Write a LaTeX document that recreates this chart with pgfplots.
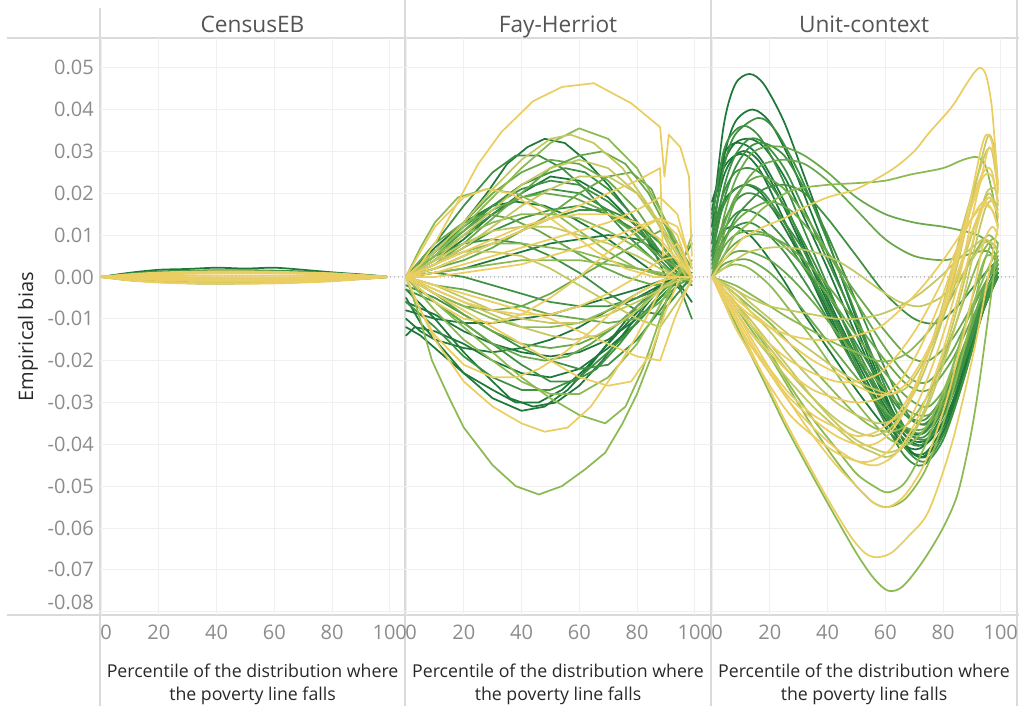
\documentclass[border=0pt]{standalone}
\usepackage{pgfplots}
\pgfplotsset{compat=1.18}
\usepackage{fontspec}
\setmainfont{Open Sans}
\definecolor{g1}{RGB}{30,120,58}
\definecolor{g2}{RGB}{62,145,66}
\definecolor{g3}{RGB}{105,168,75}
\definecolor{g4}{RGB}{140,186,82}
\definecolor{g5}{RGB}{196,200,96}
\definecolor{g6}{RGB}{234,206,98}
\definecolor{tickgray}{RGB}{140,140,140}
\definecolor{titlegray}{RGB}{85,85,85}
\definecolor{labgray}{RGB}{40,40,40}
\definecolor{rulec}{RGB}{218,218,218}
\definecolor{gridc}{RGB}{240,240,240}
\pgfplotsset{panel/.style={
  scale only axis, width=229pt, height=432.75pt,
  xmin=-0.35, xmax=105.4, ymin=-0.0808, ymax=0.0571,
  axis line style={draw=none}, major tick length=0pt,
  scaled x ticks=false, scaled y ticks=false,
  xtick={20,40,60,80,100}, xticklabels={20,40,60,80,100},
  extra x ticks={0}, extra x tick labels={0},
  extra x tick style={xticklabel style={xshift=3.75pt}},
  ytick={-0.08,-0.07,-0.06,-0.05,-0.04,-0.03,-0.02,-0.01,0,0.01,0.02,0.03,0.04,0.05},
  grid=major, major grid style={gridc, line width=0.7pt},
  tick label style={font=\fontsize{15}{18}\selectfont, text=tickgray, inner sep=0pt},
  xticklabel style={anchor=north},
  xticklabel shift=7.3pt, yticklabel shift=4.5pt,
  every axis plot/.append style={line width=1.3pt, line join=round, line cap=round},
}}
\begin{document}
\begin{tikzpicture}
\useasboundingbox (0,0) rectangle (764.25pt,529.5pt);
% frame rules
\draw[rulec, line width=0.8pt] (5.25pt,501pt) -- (764.25pt,501pt);
\draw[rulec, line width=0.8pt] (5.25pt,68.25pt) -- (764.25pt,68.25pt);
\draw[rulec, line width=0.8pt] (75pt,523.5pt) -- (75pt,0pt);
\draw[rulec, line width=0.8pt] (303.75pt,529.5pt) -- (303.75pt,0pt);
\draw[rulec, line width=0.8pt] (533.25pt,529.5pt) -- (533.25pt,0pt);
\draw[rulec, line width=0.8pt] (762.75pt,529.5pt) -- (762.75pt,0pt);

% ---------------- CensusEB ----------------
\begin{axis}[panel, at={(75pt,68.25pt)}, anchor=south west,
  ytick={-0.07,-0.06,-0.05,-0.04,-0.03,-0.02,-0.01,0,0.01,0.02,0.03,0.04,0.05},
  yticklabels={-0.07,-0.06,-0.05,-0.04,-0.03,-0.02,-0.01,0.00,0.01,0.02,0.03,0.04,0.05},
  extra y ticks={-0.08}, extra y tick labels={-0.08},
  extra y tick style={yticklabel style={yshift=7pt}},
  every axis plot/.append style={smooth}]
\draw[gray!45, dotted, line width=0.9pt] (axis cs:-0.35,0) -- (axis cs:105.4,0);
\addplot[g1] coordinates {(0,0)(10,0.0010)(20,0.0017)(30,0.0019)(40,0.0022)(50,0.0020)(60,0.0022)(70,0.0017)(80,0.0011)(90,0.0006)(99,0.0001)};
\addplot[g1] coordinates {(0,0)(10,-0.0008)(20,-0.0012)(30,-0.0015)(40,-0.0016)(50,-0.0015)(60,-0.0014)(70,-0.0012)(80,-0.0009)(90,-0.0005)(99,-0.0001)};
\addplot[g2] coordinates {(0,0)(10,0.0008)(20,0.0013)(30,0.0015)(40,0.0016)(50,0.0016)(60,0.0015)(70,0.0013)(80,0.0009)(90,0.0005)(99,0)};
\addplot[g2] coordinates {(0,0)(10,-0.0005)(20,-0.0009)(30,-0.0011)(40,-0.0012)(50,-0.0013)(60,-0.0012)(70,-0.0010)(80,-0.0007)(90,-0.0004)(99,0)};
\addplot[g3] coordinates {(0,0)(10,0.0004)(20,0.0008)(30,0.0010)(40,0.0011)(50,0.0012)(60,0.0011)(70,0.0009)(80,0.0007)(90,0.0004)(99,0)};
\addplot[g5] coordinates {(0,0)(10,0.0005)(20,0.0009)(30,0.0011)(40,0.0011)(50,0.0012)(60,0.0011)(70,0.0010)(80,0.0008)(90,0.0004)(99,0)};
\addplot[g5] coordinates {(0,0)(10,-0.0006)(20,-0.0011)(30,-0.0013)(40,-0.0014)(50,-0.0013)(60,-0.0013)(70,-0.0011)(80,-0.0008)(90,-0.0004)(99,0)};
\addplot[g6, line width=1.6pt] coordinates {(0,0)(10,0.0003)(20,0.0006)(30,0.0008)(40,0.0009)(50,0.0009)(60,0.0009)(70,0.0008)(80,0.0006)(90,0.0003)(99,0)};
\addplot[g6, line width=1.6pt] coordinates {(0,0)(10,-0.0002)(20,-0.0004)(30,-0.0005)(40,-0.0006)(50,-0.0006)(60,-0.0006)(70,-0.0005)(80,-0.0004)(90,-0.0002)(99,0)};
\addplot[g6, line width=1.6pt] coordinates {(0,0)(10,0.0001)(20,0.0002)(30,0.0003)(40,0.0003)(50,0.0003)(60,0.0003)(70,0.0003)(80,0.0002)(90,0.0001)(99,0)};
\addplot[g6, line width=1.6pt] coordinates {(0,0)(10,-0.0004)(20,-0.0007)(30,-0.0009)(40,-0.0010)(50,-0.0010)(60,-0.0010)(70,-0.0009)(80,-0.0007)(90,-0.0004)(99,0)};
\addplot[g6, line width=1.6pt] coordinates {(0,0)(10,0.0006)(20,0.0010)(30,0.0012)(40,0.0013)(50,0.0013)(60,0.0012)(70,0.0010)(80,0.0008)(90,0.0004)(99,0)};
\addplot[g6, line width=1.6pt] coordinates {(0,0)(10,-0.0008)(20,-0.0013)(30,-0.0015)(40,-0.0016)(50,-0.0016)(60,-0.0015)(70,-0.0013)(80,-0.0010)(90,-0.0005)(99,0)};
\addplot[g6, line width=1.6pt] coordinates {(0,0)(10,0.0004)(20,0.0007)(30,0.0009)(40,0.0010)(50,0.0010)(60,0.0010)(70,0.0009)(80,0.0007)(90,0.0003)(99,0)};
\addplot[g6, line width=1.6pt] coordinates {(0,0)(10,-0.0001)(20,-0.0002)(30,-0.0002)(40,-0.0003)(50,-0.0003)(60,-0.0003)(70,-0.0002)(80,-0.0002)(90,-0.0001)(99,0)};
\end{axis}

% ---------------- Fay-Herriot ----------------
\begin{axis}[panel, at={(303.75pt,68.25pt)}, anchor=south west,
  yticklabels={,,,,,,,,,,,,,}]
\draw[gray!45, dotted, line width=0.9pt] (axis cs:-0.35,0) -- (axis cs:105.4,0);
% g1
\addplot[g1] coordinates {(0,0)(10,0.006)(20,0.013)(28,0.020)(35,0.027)(42,0.031)(48,0.033)(55,0.032)(62,0.028)(70,0.022)(79,0.014)(86,0.006)(90,0.0)(95,-0.003)(99,0.0)};
\addplot[g1] coordinates {(0,0)(10,0.007)(20,0.013)(30,0.017)(38,0.018)(48,0.017)(58,0.014)(68,0.010)(78,0.005)(86,0.001)(94,-0.001)(99,0.0)};
\addplot[g1] coordinates {(0,0)(10,0.001)(20,0.002)(30,0.004)(40,0.006)(50,0.008)(60,0.009)(70,0.010)(80,0.009)(88,0.006)(94,0.003)(99,0.0)};
\addplot[g1] coordinates {(0,-0.005)(5,-0.011)(10,-0.015)(20,-0.023)(30,-0.029)(40,-0.032)(48,-0.031)(56,-0.027)(64,-0.021)(72,-0.014)(80,-0.007)(88,-0.002)(94,0.0)(99,0.0)};
\addplot[g1] coordinates {(0,-0.012)(5,-0.014)(10,-0.017)(20,-0.023)(30,-0.027)(38,-0.030)(46,-0.030)(54,-0.027)(62,-0.022)(70,-0.016)(78,-0.010)(86,-0.004)(94,0.0)(99,0.001)};
\addplot[g1] coordinates {(0,-0.010)(5,-0.013)(10,-0.015)(20,-0.017)(30,-0.018)(40,-0.017)(50,-0.015)(60,-0.012)(70,-0.008)(80,-0.005)(88,-0.002)(94,0.0)(99,0.0)};
\addplot[g1] coordinates {(0,-0.008)(5,-0.009)(10,-0.010)(20,-0.011)(30,-0.011)(40,-0.010)(50,-0.009)(60,-0.007)(70,-0.005)(80,-0.003)(88,-0.001)(94,0.0)(99,0.0)};
\addplot[g1] coordinates {(0,0)(10,0.004)(20,0.009)(30,0.015)(40,0.020)(50,0.024)(60,0.023)(70,0.019)(80,0.012)(88,0.005)(94,0.001)(99,0.0)};
\addplot[g1] coordinates {(0,-0.003)(10,-0.010)(20,-0.018)(30,-0.025)(36,-0.029)(44,-0.031)(52,-0.030)(60,-0.026)(68,-0.020)(76,-0.013)(84,-0.006)(90,-0.001)(96,0.0)(99,0.0)};
\addplot[g1] coordinates {(0,-0.006)(10,-0.009)(20,-0.013)(30,-0.016)(40,-0.018)(50,-0.019)(60,-0.018)(70,-0.015)(80,-0.010)(88,-0.005)(94,-0.001)(99,-0.006)};
\addplot[g1] coordinates {(0,-0.014)(3,-0.012)(10,-0.013)(20,-0.016)(30,-0.020)(40,-0.023)(50,-0.024)(60,-0.022)(70,-0.017)(80,-0.011)(88,-0.005)(94,-0.001)(99,0.0)};
% g2
\addplot[g2] coordinates {(0,0)(10,0.005)(20,0.011)(30,0.017)(40,0.022)(50,0.025)(55,0.026)(62,0.025)(70,0.021)(78,0.015)(86,0.008)(92,0.002)(97,0.0)};
\addplot[g2] coordinates {(0,0)(10,0.006)(20,0.012)(30,0.017)(40,0.021)(50,0.023)(60,0.022)(70,0.018)(80,0.012)(88,0.006)(94,0.001)(99,0.0)};
\addplot[g2] coordinates {(0,0)(10,0.002)(20,0.005)(30,0.008)(40,0.011)(50,0.014)(60,0.016)(70,0.016)(80,0.013)(88,0.008)(94,0.003)(99,0.0)};
\addplot[g2] coordinates {(0,-0.003)(10,-0.006)(20,-0.011)(30,-0.016)(40,-0.021)(50,-0.025)(58,-0.025)(66,-0.022)(74,-0.016)(82,-0.009)(88,-0.004)(94,0.0)(99,0.0)};
\addplot[g2] coordinates {(0,0)(10,0.005)(20,0.008)(30,0.009)(40,0.008)(50,0.005)(60,0.001)(70,-0.004)(80,-0.008)(88,-0.009)(94,-0.004)(99,0.0)};
\addplot[g2] coordinates {(0,-0.002)(10,-0.005)(20,-0.009)(30,-0.013)(40,-0.017)(50,-0.020)(60,-0.022)(70,-0.021)(80,-0.015)(88,-0.008)(94,-0.002)(99,0.0)};
\addplot[g2] coordinates {(0,0)(10,0.008)(20,0.017)(30,0.025)(38,0.029)(46,0.029)(54,0.026)(62,0.021)(70,0.015)(78,0.009)(86,0.004)(92,0.001)(97,0.0)};
\addplot[g2] coordinates {(0,0)(10,0.004)(20,0.010)(30,0.015)(40,0.019)(50,0.021)(60,0.020)(70,0.016)(80,0.010)(88,0.004)(94,0.0)(99,-0.002)};
\addplot[g2] coordinates {(0,-0.006)(10,-0.012)(20,-0.019)(30,-0.024)(40,-0.027)(50,-0.027)(60,-0.024)(70,-0.018)(80,-0.011)(88,-0.005)(94,-0.001)(99,0.0)};
\addplot[g2] coordinates {(0,0)(10,0.003)(20,0.007)(30,0.011)(40,0.014)(50,0.016)(60,0.017)(70,0.015)(80,0.011)(88,0.006)(94,0.002)(99,0.008)};
\addplot[g2] coordinates {(0,0)(10,0.001)(20,0.0)(30,-0.002)(40,-0.004)(50,-0.006)(60,-0.007)(70,-0.007)(80,-0.005)(88,-0.003)(94,-0.001)(99,-0.010)};
% g3
\addplot[g3] coordinates {(0,0)(10,0.003)(20,0.008)(30,0.014)(40,0.020)(50,0.026)(60,0.029)(68,0.030)(76,0.027)(84,0.020)(90,0.012)(95,0.005)(99,0.0)};
\addplot[g3] coordinates {(0,0)(10,0.006)(20,0.011)(30,0.016)(40,0.019)(48,0.020)(58,0.019)(68,0.016)(78,0.011)(86,0.006)(94,0.002)(99,0.0)};
\addplot[g3] coordinates {(0,0)(10,-0.006)(20,-0.011)(30,-0.016)(40,-0.019)(48,-0.020)(56,-0.019)(64,-0.016)(72,-0.012)(80,-0.007)(88,-0.003)(94,0.0)(99,0.0)};
\addplot[g3] coordinates {(0,0)(10,-0.004)(20,-0.007)(30,-0.008)(40,-0.007)(50,-0.004)(60,0.0)(70,0.004)(80,0.008)(88,0.011)(94,0.008)(99,0.002)};
\addplot[g3] coordinates {(0,0)(10,-0.002)(20,-0.003)(30,-0.005)(40,-0.007)(50,-0.009)(60,-0.010)(70,-0.011)(80,-0.010)(88,-0.006)(94,-0.002)(99,0.0)};
\addplot[g3] coordinates {(0,0)(10,0.002)(20,0.004)(30,0.007)(40,0.011)(50,0.015)(60,0.020)(70,0.024)(78,0.025)(85,0.021)(90,0.013)(95,0.005)(99,0.0)};
\addplot[g3] coordinates {(0,0)(10,0.008)(20,0.013)(28,0.015)(36,0.014)(46,0.011)(56,0.007)(66,0.003)(76,0.0)(86,-0.002)(94,-0.001)(99,0.0)};
\addplot[g3] coordinates {(0,0)(10,-0.004)(20,-0.009)(30,-0.013)(40,-0.016)(50,-0.017)(60,-0.016)(70,-0.013)(80,-0.008)(88,-0.003)(94,0.0)(99,0.004)};
\addplot[g3] coordinates {(0,0)(10,0.006)(20,0.013)(30,0.020)(40,0.025)(50,0.028)(60,0.027)(70,0.023)(80,0.016)(88,0.008)(94,0.002)(99,0.0)};
% g4
\addplot[g4] coordinates {(0,0)(10,0.005)(20,0.012)(30,0.019)(40,0.026)(50,0.032)(60,0.0355)(70,0.033)(80,0.026)(88,0.016)(94,0.008)(99,0.0)};
\addplot[g4] coordinates {(0,0)(5,0.007)(10,0.013)(18,0.019)(28,0.021)(38,0.020)(50,0.016)(60,0.011)(70,0.006)(80,0.002)(90,0.0)(97,0.0)};
\addplot[g4] coordinates {(0,0)(10,0.003)(20,0.006)(30,0.008)(40,0.008)(50,0.007)(60,0.006)(70,0.004)(80,0.002)(88,0.001)(94,0.0)(99,-0.001)};
\addplot[g4] coordinates {(0,0)(4,-0.008)(9,-0.020)(15,-0.029)(20,-0.036)(30,-0.045)(38,-0.050)(46,-0.052)(54,-0.050)(62,-0.046)(69,-0.042)(75,-0.035)(80,-0.028)(85,-0.019)(88,-0.012)(91,-0.003)(95,0.002)(99,0.0)};
\addplot[g4] coordinates {(0,0)(10,-0.006)(20,-0.012)(30,-0.018)(40,-0.024)(50,-0.029)(60,-0.033)(69,-0.035)(76,-0.031)(82,-0.022)(88,-0.010)(92,-0.002)(96,0.002)(99,0.0)};
\addplot[g4] coordinates {(0,0)(10,-0.008)(20,-0.015)(30,-0.020)(40,-0.025)(50,-0.028)(60,-0.028)(70,-0.024)(80,-0.016)(87,-0.008)(93,0.0)(99,0.0)};
\addplot[g4] coordinates {(0,0)(10,0.001)(20,0.002)(30,0.003)(40,0.004)(50,0.004)(60,0.004)(70,0.003)(80,0.002)(88,0.001)(94,0.0)(99,0.0)};
\addplot[g4] coordinates {(0,0)(10,0.005)(20,0.010)(30,0.013)(40,0.015)(50,0.015)(60,0.014)(70,0.011)(80,0.007)(88,0.003)(94,0.0)(99,0.010)};
\addplot[g4] coordinates {(0,0)(10,-0.004)(20,-0.007)(30,-0.010)(40,-0.012)(50,-0.012)(60,-0.011)(70,-0.008)(80,-0.004)(88,-0.001)(94,0.0)(99,0.0)};
% g5
\addplot[g5] coordinates {(0,0)(10,0.006)(20,0.013)(30,0.021)(40,0.028)(50,0.033)(57,0.034)(65,0.032)(75,0.026)(85,0.016)(92,0.006)(97,0.0)};
\addplot[g5] coordinates {(0,0)(10,0.004)(20,0.010)(30,0.016)(40,0.022)(50,0.026)(60,0.028)(70,0.026)(80,0.020)(88,0.012)(94,0.005)(99,0.0)};
\addplot[g5] coordinates {(0,0)(10,0.004)(20,0.008)(30,0.011)(40,0.012)(50,0.012)(60,0.010)(70,0.008)(80,0.005)(88,0.002)(94,0.0)(99,0.0)};
\addplot[g5] coordinates {(0,0)(10,-0.003)(20,-0.006)(30,-0.009)(40,-0.012)(50,-0.014)(58,-0.015)(66,-0.014)(74,-0.011)(82,-0.007)(88,-0.003)(94,0.0)(99,0.0)};
\addplot[g5] coordinates {(0,0)(10,0.004)(20,0.006)(30,0.006)(40,0.005)(50,0.002)(60,-0.002)(70,-0.006)(80,-0.010)(88,-0.012)(94,-0.006)(99,-0.001)};
\addplot[g5] coordinates {(0,0)(10,-0.002)(20,-0.005)(30,-0.008)(40,-0.010)(50,-0.011)(60,-0.011)(70,-0.009)(80,-0.006)(88,-0.003)(94,-0.001)(99,0.0)};
\addplot[g5] coordinates {(0,0)(10,0.003)(20,0.007)(30,0.012)(40,0.017)(50,0.021)(60,0.024)(70,0.024)(80,0.020)(88,0.013)(94,0.006)(99,0.0)};
% g6
\addplot[g6] coordinates {(0,0)(5,0.003)(10,0.008)(18,0.018)(25,0.027)(33,0.0346)(44,0.042)(54,0.0454)(65,0.0463)(78,0.0415)(88,0.0358)(89.5,0.024)(91,0.034)(95,0.031)(98,0.024)(99,0.005)};
\addplot[g6] coordinates {(0,0)(10,0.002)(20,0.005)(30,0.008)(40,0.011)(50,0.014)(60,0.017)(70,0.020)(80,0.023)(88,0.026)(89,0.005)(94,0.008)(99,0.0)};
\addplot[g6] coordinates {(0,0)(10,0.001)(20,0.003)(30,0.005)(40,0.007)(50,0.009)(60,0.011)(70,0.013)(80,0.016)(88,0.019)(94,0.015)(99,0.002)};
\addplot[g6] coordinates {(0,0)(10,0.0)(20,0.001)(30,0.002)(40,0.003)(50,0.005)(60,0.007)(70,0.009)(80,0.012)(88,0.014)(94,0.012)(99,0.003)};
\addplot[g6] coordinates {(0,0)(5,-0.008)(10,-0.015)(20,-0.025)(30,-0.031)(40,-0.035)(48,-0.037)(56,-0.036)(64,-0.031)(72,-0.023)(80,-0.014)(86,-0.006)(90,0.0)(95,0.003)(99,0.0)};
\addplot[g6] coordinates {(0,0)(5,-0.008)(10,-0.014)(20,-0.021)(30,-0.024)(38,-0.024)(46,-0.022)(55,-0.018)(64,-0.013)(72,-0.008)(80,-0.004)(88,-0.001)(94,0.0)(99,0.0)};
\addplot[g6] coordinates {(0,0)(10,-0.002)(20,-0.004)(30,-0.006)(40,-0.008)(50,-0.010)(60,-0.013)(70,-0.016)(80,-0.019)(88,-0.020)(93,-0.010)(99,0.0)};
\addplot[g6] coordinates {(0,0)(10,-0.006)(20,-0.010)(30,-0.011)(40,-0.009)(50,-0.005)(60,0.0)(70,0.006)(80,0.011)(88,0.014)(94,0.010)(99,0.0)};
\addplot[g6] coordinates {(0,0)(10,-0.004)(20,-0.008)(30,-0.012)(40,-0.016)(50,-0.020)(60,-0.024)(70,-0.026)(78,-0.025)(85,-0.018)(90,-0.008)(95,0.0)(99,0.0)};
\addplot[g6] coordinates {(0,0)(5,0.006)(10,0.012)(20,0.019)(28,0.021)(36,0.020)(46,0.016)(56,0.011)(66,0.006)(76,0.002)(86,0.0)(94,0.0)(99,0.0)};
\addplot[g6] coordinates {(0,0)(10,0.003)(20,0.006)(30,0.009)(40,0.012)(50,0.014)(60,0.015)(70,0.015)(80,0.013)(88,0.009)(94,0.004)(99,0.0)};
\addplot[g6] coordinates {(0,0)(10,-0.003)(20,-0.006)(30,-0.008)(40,-0.009)(50,-0.009)(60,-0.007)(70,-0.004)(80,0.0)(88,0.004)(94,0.005)(99,0.0)};
\end{axis}

% ---------------- Unit-context ----------------
\begin{axis}[panel, at={(533.25pt,68.25pt)}, anchor=south west,
  yticklabels={,,,,,,,,,,,,,},
  every axis plot/.append style={smooth}]
\draw[gray!45, dotted, line width=0.9pt] (axis cs:-0.35,0) -- (axis cs:105.4,0);
% g1
\addplot[g1] coordinates {(0,0.012)(4,0.036)(8,0.046)(13,0.0485)(18,0.046)(25,0.037)(32,0.024)(40,0.009)(50,-0.010)(60,-0.028)(67,-0.038)(74,-0.040)(82,-0.032)(88,-0.020)(93,-0.009)(97,-0.002)(99,0.0)};
\addplot[g1] coordinates {(0,0.008)(4,0.028)(8,0.037)(14,0.040)(20,0.037)(27,0.028)(34,0.016)(42,0.002)(50,-0.012)(60,-0.029)(67,-0.040)(74,-0.043)(82,-0.034)(88,-0.021)(93,-0.009)(97,-0.002)(99,0.001)};
\addplot[g1] coordinates {(0,0.015)(4,0.027)(8,0.032)(13,0.033)(18,0.031)(25,0.024)(32,0.014)(40,0.002)(50,-0.014)(60,-0.029)(68,-0.037)(75,-0.036)(83,-0.025)(90,-0.012)(95,-0.003)(99,0.003)};
\addplot[g1] coordinates {(0,0.012)(4,0.024)(8,0.029)(12,0.030)(17,0.027)(24,0.018)(32,0.006)(40,-0.006)(50,-0.020)(60,-0.033)(67,-0.041)(74,-0.042)(82,-0.033)(89,-0.018)(94,-0.007)(99,0.0)};
\addplot[g1] coordinates {(0,0.010)(4,0.018)(8,0.021)(12,0.022)(17,0.020)(24,0.013)(32,0.003)(40,-0.008)(50,-0.022)(60,-0.034)(66,-0.040)(73,-0.043)(81,-0.036)(88,-0.022)(94,-0.008)(99,0.0)};
\addplot[g1] coordinates {(0,0.006)(4,0.011)(8,0.012)(13,0.010)(18,0.006)(25,-0.001)(32,-0.009)(40,-0.017)(50,-0.027)(60,-0.036)(66,-0.040)(72,-0.041)(80,-0.035)(88,-0.021)(94,-0.008)(99,0.0)};
\addplot[g1] coordinates {(0,0.018)(4,0.026)(8,0.029)(12,0.029)(17,0.025)(24,0.015)(32,0.003)(40,-0.009)(50,-0.022)(60,-0.032)(67,-0.037)(74,-0.037)(82,-0.028)(89,-0.015)(94,-0.005)(99,0.001)};
\addplot[g1] coordinates {(0,0.016)(4,0.029)(8,0.032)(13,0.031)(18,0.027)(25,0.018)(32,0.007)(40,-0.005)(50,-0.019)(60,-0.031)(67,-0.038)(74,-0.039)(82,-0.030)(89,-0.016)(94,-0.006)(99,0.001)};
% g2
\addplot[g2] coordinates {(0,0.010)(4,0.026)(8,0.034)(16,0.038)(22,0.035)(30,0.025)(38,0.012)(46,-0.002)(55,-0.018)(63,-0.031)(69,-0.038)(76,-0.038)(84,-0.027)(90,-0.014)(95,-0.004)(99,0.002)};
\addplot[g2] coordinates {(0,0.005)(4,0.018)(8,0.026)(13,0.031)(18,0.032)(25,0.029)(32,0.021)(40,0.010)(50,-0.006)(60,-0.022)(68,-0.033)(75,-0.035)(83,-0.026)(90,-0.013)(95,-0.004)(99,0.002)};
\addplot[g2] coordinates {(0,0.010)(4,0.020)(8,0.025)(13,0.026)(18,0.024)(25,0.017)(32,0.008)(40,-0.003)(50,-0.017)(60,-0.030)(67,-0.037)(74,-0.038)(82,-0.029)(89,-0.016)(94,-0.006)(99,0.001)};
\addplot[g2] coordinates {(0,0.005)(4,0.013)(8,0.018)(12,0.020)(17,0.019)(24,0.014)(32,0.006)(40,-0.004)(50,-0.016)(60,-0.027)(67,-0.033)(74,-0.034)(82,-0.026)(89,-0.014)(94,-0.005)(99,0.002)};
\addplot[g2] coordinates {(0,0.004)(4,0.011)(8,0.015)(12,0.016)(18,0.014)(25,0.009)(32,0.002)(40,-0.007)(50,-0.019)(60,-0.030)(67,-0.036)(74,-0.037)(82,-0.028)(89,-0.015)(94,-0.005)(99,0.001)};
\addplot[g2] coordinates {(0,0.014)(4,0.030)(8,0.035)(12,0.036)(17,0.033)(24,0.024)(32,0.011)(40,-0.002)(50,-0.018)(60,-0.032)(67,-0.041)(74,-0.044)(82,-0.035)(89,-0.020)(94,-0.008)(99,0.0)};
\addplot[g2] coordinates {(0,0.0)(4,0.008)(8,0.014)(13,0.018)(18,0.021)(25,0.022)(32,0.020)(40,0.014)(50,0.005)(60,-0.004)(70,-0.010)(78,-0.011)(85,-0.007)(91,-0.002)(96,0.002)(99,0.004)};
\addplot[g2] coordinates {(0,0.008)(4,0.017)(8,0.021)(13,0.022)(18,0.020)(25,0.013)(32,0.004)(40,-0.007)(50,-0.021)(60,-0.035)(67,-0.043)(73,-0.045)(80,-0.039)(87,-0.025)(93,-0.010)(97,-0.002)(99,0.001)};
\addplot[g2] coordinates {(0,0.006)(4,0.021)(8,0.029)(13,0.033)(18,0.032)(25,0.026)(32,0.016)(40,0.004)(50,-0.011)(60,-0.025)(67,-0.033)(74,-0.035)(82,-0.027)(89,-0.014)(94,-0.005)(99,0.002)};
\addplot[g2] coordinates {(0,0.003)(4,0.009)(8,0.012)(13,0.013)(18,0.011)(25,0.006)(32,-0.001)(40,-0.010)(50,-0.022)(60,-0.033)(67,-0.039)(73,-0.040)(81,-0.032)(88,-0.019)(94,-0.007)(99,0.001)};
% g3
\addplot[g3] coordinates {(0,0)(4,0.014)(8,0.023)(13,0.029)(18,0.031)(25,0.031)(32,0.029)(40,0.025)(50,0.019)(60,0.015)(70,0.013)(80,0.012)(87,0.011)(92,0.010)(96,0.008)(99,0.004)};
\addplot[g3] coordinates {(0,0)(4,0.010)(8,0.018)(13,0.024)(18,0.027)(25,0.028)(32,0.027)(40,0.023)(50,0.016)(60,0.009)(70,0.005)(80,0.004)(87,0.005)(92,0.006)(96,0.006)(99,0.003)};
\addplot[g3] coordinates {(0,0)(4,0.005)(8,0.008)(13,0.010)(18,0.010)(25,0.008)(32,0.004)(40,-0.002)(50,-0.011)(60,-0.020)(68,-0.026)(75,-0.027)(83,-0.020)(90,-0.010)(95,-0.003)(99,0.002)};
\addplot[g3] coordinates {(0,0)(4,0.008)(8,0.013)(13,0.016)(20,0.018)(27,0.016)(34,0.011)(42,0.004)(50,-0.004)(60,-0.013)(68,-0.019)(75,-0.020)(83,-0.015)(90,-0.007)(95,-0.001)(99,0.003)};
\addplot[g3] coordinates {(0,0)(4,0.004)(8,0.006)(13,0.006)(20,0.004)(27,0.0)(35,-0.006)(43,-0.013)(50,-0.019)(60,-0.027)(68,-0.032)(75,-0.033)(82,-0.027)(88,-0.016)(93,-0.005)(97,0.002)(99,0.004)};
\addplot[g3] coordinates {(0,0)(4,0.007)(8,0.010)(13,0.011)(20,0.010)(27,0.006)(35,0.0)(43,-0.007)(50,-0.014)(60,-0.023)(68,-0.029)(75,-0.031)(82,-0.025)(88,-0.015)(93,-0.005)(97,0.002)(99,0.005)};
\addplot[g3] coordinates {(0,0)(4,0.003)(8,0.004)(13,0.004)(20,0.001)(27,-0.004)(35,-0.011)(43,-0.018)(50,-0.024)(60,-0.032)(67,-0.036)(74,-0.036)(82,-0.028)(88,-0.016)(93,-0.005)(97,0.002)(99,0.004)};
\addplot[g3] coordinates {(0,0.002)(4,0.012)(8,0.019)(13,0.023)(18,0.024)(25,0.021)(32,0.015)(40,0.006)(50,-0.006)(60,-0.017)(68,-0.024)(75,-0.025)(83,-0.018)(90,-0.008)(95,-0.001)(99,0.004)};
% g4
\addplot[g4] coordinates {(0,0)(4,-0.005)(8,-0.011)(13,-0.018)(18,-0.025)(25,-0.035)(32,-0.044)(40,-0.054)(50,-0.066)(56,-0.072)(61,-0.075)(66,-0.074)(73,-0.068)(80,-0.060)(85,-0.052)(89,-0.040)(92,-0.028)(95,-0.013)(97.5,0.0)(99,0.008)};
\addplot[g4] coordinates {(0,0)(4,-0.003)(8,-0.007)(13,-0.012)(20,-0.019)(27,-0.027)(35,-0.036)(43,-0.044)(50,-0.050)(56,-0.054)(61,-0.055)(67,-0.053)(74,-0.046)(81,-0.033)(87,-0.018)(91,-0.006)(94,0.003)(97,0.008)(99,0.006)};
\addplot[g4] coordinates {(0,0)(8,-0.006)(13,-0.011)(20,-0.018)(27,-0.026)(35,-0.034)(43,-0.041)(50,-0.047)(56,-0.050)(61,-0.0515)(67,-0.049)(74,-0.040)(81,-0.027)(87,-0.013)(91,-0.003)(95,0.005)(99,0.004)};
\addplot[g4] coordinates {(0,0)(8,-0.002)(13,-0.004)(20,-0.007)(27,-0.010)(35,-0.013)(43,-0.016)(50,-0.018)(57,-0.020)(62,-0.020)(68,-0.018)(75,-0.013)(82,-0.006)(88,0.002)(93,0.008)(96,0.010)(99,0.008)};
\addplot[g4] coordinates {(0,0)(4,0.005)(8,0.010)(13,0.013)(17,0.016)(23,0.019)(29,0.021)(40,0.022)(52,0.0225)(60,0.023)(69,0.0245)(80,0.026)(87,0.028)(92,0.0286)(95,0.026)(98,0.017)(99,0.012)};
\addplot[g4] coordinates {(0,0)(4,0.002)(8,0.003)(13,0.002)(20,-0.002)(27,-0.008)(35,-0.015)(43,-0.023)(50,-0.030)(56,-0.035)(62,-0.039)(68,-0.040)(75,-0.035)(82,-0.024)(88,-0.011)(93,-0.002)(97,0.004)(99,0.006)};
\addplot[g4] coordinates {(0,0)(4,-0.002)(8,-0.004)(13,-0.007)(20,-0.011)(27,-0.016)(35,-0.022)(43,-0.028)(50,-0.033)(56,-0.036)(62,-0.037)(68,-0.035)(75,-0.028)(82,-0.016)(88,-0.004)(93,0.005)(97,0.009)(99,0.008)};
% g5
\addplot[g5] coordinates {(0,0)(4,-0.003)(8,-0.006)(13,-0.010)(20,-0.016)(27,-0.022)(35,-0.029)(43,-0.035)(50,-0.039)(56,-0.041)(61,-0.042)(67,-0.040)(74,-0.032)(81,-0.019)(87,-0.005)(91,0.007)(95,0.017)(98,0.018)(99,0.014)};
\addplot[g5] coordinates {(0,0)(8,-0.004)(13,-0.008)(20,-0.013)(27,-0.019)(35,-0.025)(43,-0.030)(50,-0.033)(58,-0.035)(65,-0.033)(72,-0.025)(79,-0.012)(85,0.003)(90,0.018)(94,0.030)(96,0.034)(98,0.030)(99,0.022)};
\addplot[g5] coordinates {(0,0)(8,-0.003)(13,-0.006)(20,-0.010)(27,-0.014)(35,-0.018)(43,-0.022)(50,-0.025)(57,-0.027)(62,-0.028)(68,-0.026)(75,-0.018)(82,-0.006)(88,0.006)(93,0.016)(96,0.020)(99,0.016)};
\addplot[g5] coordinates {(0,0)(8,-0.003)(13,-0.005)(20,-0.007)(27,-0.008)(35,-0.009)(43,-0.010)(50,-0.010)(58,-0.009)(65,-0.007)(72,-0.004)(79,0.0)(85,0.004)(90,0.007)(94,0.009)(97,0.008)(99,0.006)};
\addplot[g5] coordinates {(0,0)(8,0.004)(13,0.006)(20,0.007)(27,0.007)(35,0.006)(43,0.004)(50,0.001)(58,-0.003)(65,-0.006)(72,-0.007)(79,-0.005)(85,-0.001)(90,0.004)(94,0.008)(97,0.008)(99,0.006)};
\addplot[g5] coordinates {(0,0)(4,-0.004)(8,-0.008)(13,-0.013)(20,-0.019)(27,-0.025)(35,-0.031)(43,-0.036)(50,-0.040)(56,-0.042)(61,-0.043)(67,-0.040)(74,-0.031)(81,-0.017)(87,-0.002)(91,0.010)(95,0.020)(98,0.021)(99,0.017)};
\addplot[g5] coordinates {(0,0)(4,-0.003)(8,-0.006)(13,-0.011)(20,-0.017)(27,-0.023)(35,-0.029)(43,-0.034)(50,-0.037)(56,-0.038)(62,-0.036)(68,-0.030)(75,-0.018)(81,-0.004)(86,0.010)(91,0.022)(95,0.030)(97,0.030)(99,0.021)};
% g6
\addplot[g6] coordinates {(0,0)(4,-0.005)(8,-0.010)(13,-0.017)(18,-0.024)(25,-0.034)(32,-0.043)(40,-0.053)(48,-0.062)(53,-0.066)(57,-0.067)(62,-0.066)(68,-0.062)(75,-0.056)(83,-0.040)(90,-0.020)(94,-0.006)(97,0.005)(99,0.012)};
\addplot[g6] coordinates {(0,0)(4,-0.004)(8,-0.008)(13,-0.014)(20,-0.022)(27,-0.030)(35,-0.038)(43,-0.045)(50,-0.050)(56,-0.054)(61,-0.055)(67,-0.052)(74,-0.044)(81,-0.030)(87,-0.014)(91,-0.002)(94,0.008)(97,0.012)(99,0.010)};
\addplot[g6] coordinates {(0,0)(4,-0.004)(8,-0.009)(13,-0.015)(20,-0.023)(27,-0.030)(35,-0.036)(43,-0.041)(50,-0.044)(57,-0.045)(64,-0.042)(71,-0.034)(78,-0.022)(84,-0.008)(89,0.005)(93,0.015)(96,0.019)(99,0.015)};
\addplot[g6] coordinates {(0,0)(4,-0.006)(8,-0.012)(13,-0.018)(20,-0.026)(27,-0.033)(35,-0.038)(43,-0.042)(50,-0.044)(55,-0.044)(62,-0.041)(70,-0.032)(78,-0.018)(85,-0.002)(90,0.014)(94,0.026)(96,0.031)(98,0.028)(99,0.020)};
\addplot[g6] coordinates {(0,0)(4,-0.005)(8,-0.010)(13,-0.016)(20,-0.022)(27,-0.028)(35,-0.033)(43,-0.036)(50,-0.038)(57,-0.037)(64,-0.033)(71,-0.025)(78,-0.012)(84,0.003)(89,0.017)(93,0.030)(95,0.034)(97,0.032)(99,0.022)};
\addplot[g6] coordinates {(0,0)(4,-0.004)(8,-0.008)(13,-0.013)(20,-0.018)(27,-0.023)(35,-0.027)(43,-0.029)(50,-0.030)(58,-0.029)(65,-0.025)(72,-0.017)(79,-0.006)(85,0.006)(90,0.017)(94,0.024)(97,0.024)(99,0.018)};
\addplot[g6] coordinates {(0,0)(4,-0.003)(8,-0.007)(13,-0.011)(20,-0.016)(27,-0.020)(35,-0.023)(43,-0.025)(50,-0.025)(58,-0.023)(65,-0.018)(72,-0.011)(79,-0.002)(85,0.007)(90,0.014)(94,0.018)(97,0.016)(99,0.012)};
\addplot[g6] coordinates {(0,0)(4,-0.003)(8,-0.006)(13,-0.009)(20,-0.012)(27,-0.014)(35,-0.015)(43,-0.015)(50,-0.014)(58,-0.012)(65,-0.008)(72,-0.003)(79,0.003)(85,0.009)(90,0.014)(94,0.017)(97,0.016)(99,0.012)};
\addplot[g6] coordinates {(0,0)(4,-0.005)(8,-0.010)(13,-0.016)(20,-0.023)(27,-0.029)(35,-0.034)(43,-0.038)(50,-0.040)(56,-0.040)(62,-0.037)(69,-0.029)(76,-0.016)(83,-0.001)(88,0.012)(92,0.022)(95,0.026)(97,0.025)(99,0.018)};
\addplot[g6] coordinates {(0,0)(4,-0.002)(8,-0.005)(13,-0.008)(20,-0.012)(27,-0.016)(35,-0.020)(43,-0.023)(50,-0.026)(57,-0.028)(62,-0.028)(68,-0.025)(75,-0.017)(82,-0.005)(88,0.007)(93,0.016)(96,0.019)(99,0.015)};
\addplot[g6] coordinates {(0,0)(4,0.004)(8,0.007)(11,0.0094)(18,0.012)(25,0.014)(30,0.016)(40,0.019)(50,0.021)(62,0.0255)(70,0.030)(75,0.0343)(83,0.0406)(88,0.046)(91,0.049)(93,0.050)(95,0.048)(97,0.040)(99,0.022)};
\end{axis}

% titles
\node[anchor=base, font=\fontsize{17}{20}\selectfont, text=titlegray] at (189.4pt,505pt) {CensusEB};
\node[anchor=base, font=\fontsize{17}{20}\selectfont, text=titlegray] at (418.5pt,505pt) {Fay-Herriot};
\node[anchor=base, font=\fontsize{17}{20}\selectfont, text=titlegray] at (648pt,505pt) {Unit-context};
% x axis titles
\foreach \cx in {189.4pt,418.5pt,648pt}{
  \node[anchor=base, font=\fontsize{13.3}{15}\selectfont, text=labgray, inner sep=0pt] at (\cx,21.75pt) {Percentile of the distribution where};
  \node[anchor=base, font=\fontsize{13.3}{15}\selectfont, text=labgray, inner sep=0pt] at (\cx,4.5pt) {the poverty line falls};
}
% y axis title
\node[rotate=90, font=\fontsize{15}{18}\selectfont, text=labgray, inner sep=0pt] at (21pt,277pt) {Empirical bias};
\end{tikzpicture}
\end{document}
